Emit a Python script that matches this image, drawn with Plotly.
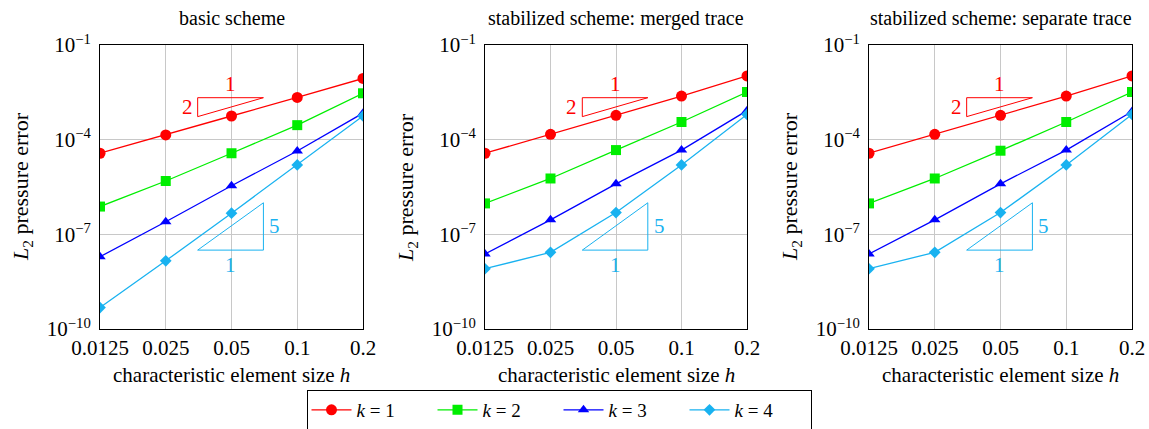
import plotly.graph_objects as go
import math

# ---------------- data ----------------
h_vals = [0.0125, 0.025, 0.05, 0.1, 0.2]
h_ticktext = ["0.0125", "0.025", "0.05", "0.1", "0.2"]
y_tickvals = [1e-1, 1e-4, 1e-7, 1e-10]
y_ticktext = ["10<sup>−1</sup>", "10<sup>−4</sup>", "10<sup>−7</sup>", "10<sup>−10</sup>"]

panel_titles = ["basic scheme", "stabilized scheme: merged trace", "stabilized scheme: separate trace"]
series_names = ["<i>k</i> = 1", "<i>k</i> = 2", "<i>k</i> = 3", "<i>k</i> = 4"]

# log10 of L2 pressure error
basic_k1 = [-4.43, -3.85, -3.25, -2.66, -2.06]
basic_k2 = [-6.12, -5.31, -4.43, -3.54, -2.53]
basic_k3 = [-7.71, -6.60, -5.46, -4.36, -3.16]
basic_k4 = [-9.32, -7.84, -6.33, -4.80, -3.25]

merged_k1 = [-4.43, -3.83, -3.23, -2.62, -1.98]
merged_k2 = [-6.02, -5.23, -4.33, -3.44, -2.49]
merged_k3 = [-7.62, -6.54, -5.40, -4.33, -3.08]
merged_k4 = [-8.09, -7.57, -6.31, -4.80, -3.20]

separate_k1 = [-4.43, -3.83, -3.23, -2.62, -1.98]
separate_k2 = [-6.02, -5.23, -4.35, -3.44, -2.49]
separate_k3 = [-7.62, -6.54, -5.40, -4.33, -3.11]
separate_k4 = [-8.09, -7.57, -6.31, -4.80, -3.20]

# slope triangles: x extent, log10 y extents
tri_x = [0.035, 0.07]
red_tri_logy = [-2.67, -3.27]     # top, bottom (slope 2)
cyan_tri_logy = [-6.0, -7.5]      # top, bottom (slope 5)

# ---------------- style ----------------
colors = ["#ff0000", "#00ee00", "#0000ff", "#19b2f0"]
symbols = ["circle", "square", "triangle-up", "diamond"]
msizes = [11, 10, 10, 9]
FONT = "Liberation Serif, Times New Roman, serif"

W, H = 1149, 429
panels_px = [(100, 363), (485, 747), (869, 1132)]
y_top_px, y_bot_px = 45, 329
ydom = [1 - y_bot_px / H, 1 - y_top_px / H]

data_sets = [
    [basic_k1, basic_k2, basic_k3, basic_k4],
    [merged_k1, merged_k2, merged_k3, merged_k4],
    [separate_k1, separate_k2, separate_k3, separate_k4],
]

fig = go.Figure()
annotations = []

for p, (series, (x0, x1)) in enumerate(zip(data_sets, panels_px)):
    sfx = "" if p == 0 else str(p + 1)
    xa, ya = "x" + sfx, "y" + sfx
    for i, logs in enumerate(series):
        fig.add_trace(go.Scatter(
            x=h_vals, y=[10 ** v for v in logs], xaxis=xa, yaxis=ya,
            mode="lines+markers", name=series_names[i],
            line=dict(color=colors[i], width=1.3),
            marker=dict(color=colors[i], symbol=symbols[i], size=msizes[i]),
            showlegend=(p == 0), legendgroup=str(i),
        ))
    # red slope triangle
    rt, rb = red_tri_logy
    fig.add_trace(go.Scatter(
        x=[tri_x[0], tri_x[1], tri_x[0], tri_x[0]],
        y=[10 ** rt, 10 ** rt, 10 ** rb, 10 ** rt],
        xaxis=xa, yaxis=ya, mode="lines", line=dict(color=colors[0], width=1),
        showlegend=False, hoverinfo="skip"))
    ct, cb = cyan_tri_logy
    fig.add_trace(go.Scatter(
        x=[tri_x[0], tri_x[1], tri_x[1], tri_x[0]],
        y=[10 ** cb, 10 ** cb, 10 ** ct, 10 ** cb],
        xaxis=xa, yaxis=ya, mode="lines", line=dict(color=colors[3], width=1),
        showlegend=False, hoverinfo="skip"))
    lx0, lx1 = math.log10(tri_x[0]), math.log10(tri_x[1])
    lxm = (lx0 + lx1) / 2
    annotations += [
        dict(x=lxm, y=rt, xref=xa, yref=ya, text="1", showarrow=False, xanchor="center",
             yanchor="bottom", yshift=0, font=dict(family=FONT, size=21, color=colors[0])),
        dict(x=lx0, y=(rt + rb) / 2, xref=xa, yref=ya, text="2", showarrow=False,
             xanchor="right", yanchor="middle", xshift=-3,
             font=dict(family=FONT, size=21, color=colors[0])),
        dict(x=lx1, y=(ct + cb) / 2, xref=xa, yref=ya, text="5", showarrow=False,
             xanchor="left", yanchor="middle", xshift=4,
             font=dict(family=FONT, size=21, color=colors[3])),
        dict(x=lxm, y=cb, xref=xa, yref=ya, text="1", showarrow=False, xanchor="center",
             yanchor="top", yshift=-1, font=dict(family=FONT, size=21, color=colors[3])),
        dict(x=(x0 + x1) / 2 / W, y=1 - 18 / H, xref="paper", yref="paper",
             text=panel_titles[p], showarrow=False, xanchor="center", yanchor="middle",
             font=dict(family=FONT, size=20, color="black")),
        dict(x=(x0 + x1) / 2 / W, y=1 - 375 / H, xref="paper", yref="paper",
             text="characteristic element size <i>h</i>", showarrow=False,
             xanchor="center", yanchor="middle",
             font=dict(family=FONT, size=21, color="black")),
        dict(x=(x0 - 78) / W, y=1 - 187 / H, xref="paper", yref="paper",
             text="<i>L</i><sub>2</sub> pressure error", showarrow=False, textangle=-90,
             xanchor="center", yanchor="middle",
             font=dict(family=FONT, size=22, color="black")),
    ]
    axis_common = dict(showline=True, linecolor="black", linewidth=1, mirror=True,
                       showgrid=True, gridcolor="#c8c8c8", gridwidth=1, ticks="",
                       zeroline=False, automargin=False,
                       tickfont=dict(family=FONT, size=21, color="black"))
    fig.update_layout(**{
        "xaxis" + sfx: dict(type="log", domain=[x0 / W, x1 / W], anchor=ya,
                            range=[math.log10(0.0125), math.log10(0.2)],
                            tickvals=h_vals, ticktext=h_ticktext, **axis_common),
        "yaxis" + sfx: dict(type="log", domain=ydom, anchor=xa, range=[-10, -1],
                            tickvals=y_tickvals, ticktext=y_ticktext,
                            ticklabelstandoff=4, **axis_common),
    })

fig.update_layout(
    width=W, height=H, margin=dict(l=0, r=0, t=0, b=0, autoexpand=False),
    paper_bgcolor="white", plot_bgcolor="white",
    font=dict(family=FONT, color="black"),
    annotations=annotations,
    legend=dict(orientation="h", x=559 / W, xanchor="center", y=1 - 390 / H, yanchor="top",
                bordercolor="black", borderwidth=1, bgcolor="white",
                font=dict(family=FONT, size=19, color="black"),
                itemwidth=40, entrywidth=71, tracegroupgap=0),
    showlegend=True,
)

fig.write_html("out.html")
